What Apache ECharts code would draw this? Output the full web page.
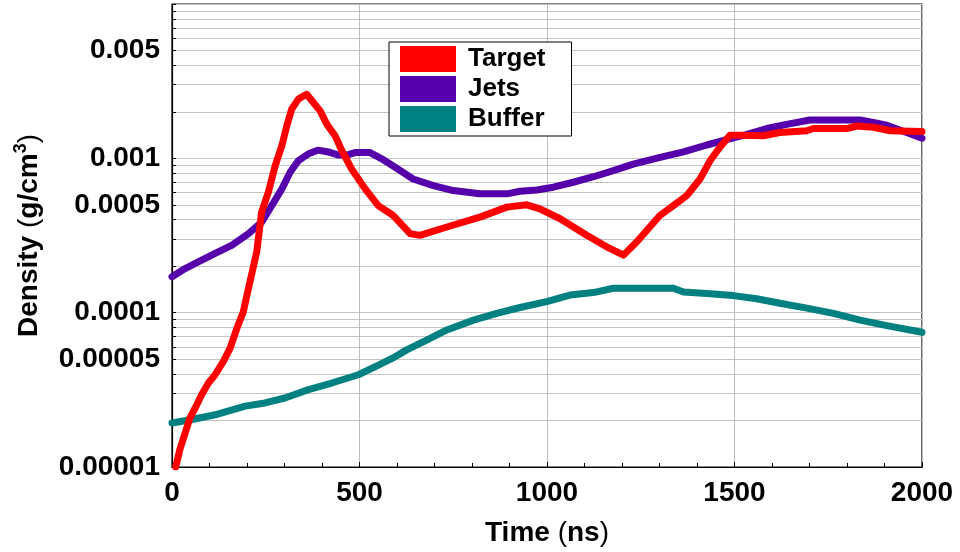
<!DOCTYPE html>
<html>
<head>
<meta charset="utf-8">
<script src="https://cdn.jsdelivr.net/npm/echarts@6/dist/echarts.min.js"></script>
<style>
  html, body { margin: 0; padding: 0; background: #fff; }
  #chart { width: 960px; height: 552px; }
</style>
</head>
<body>
<div id="chart"></div>
<script>
// Density histories (g/cm^3) versus time (ns)
const seriesNames = ['Target', 'Jets', 'Buffer'];

const targetTime = [10, 21, 35, 48, 66, 79, 97, 115, 137, 155, 173, 190, 204, 226, 239, 257, 275, 293, 306, 319, 337, 359, 377, 395, 413, 435, 453, 479, 515, 550, 590, 635, 661, 733, 821, 893, 946, 981, 1035, 1106, 1159, 1204, 1239, 1301, 1337, 1373, 1408, 1435, 1461, 1488, 1515, 1577, 1621, 1693, 1710, 1799, 1826, 1870, 1915, 2000];
const targetDensity = [1.0e-5, 1.30e-5, 1.66e-5, 2.08e-5, 2.53e-5, 2.94e-5, 3.50e-5, 3.96e-5, 4.83e-5, 5.89e-5, 7.92e-5, 1.01e-4, 1.44e-4, 2.48e-4, 4.49e-4, 6.04e-4, 8.95e-4, 1.21e-3, 1.62e-3, 2.08e-3, 2.42e-3, 2.60e-3, 2.30e-3, 2.03e-3, 1.66e-3, 1.40e-3, 1.12e-3, 8.53e-4, 6.34e-4, 4.94e-4, 4.26e-4, 3.25e-4, 3.17e-4, 3.59e-4, 4.16e-4, 4.83e-4, 5.00e-4, 4.71e-4, 4.06e-4, 3.17e-4, 2.67e-4, 2.36e-4, 2.87e-4, 4.26e-4, 4.94e-4, 5.74e-4, 7.35e-4, 9.66e-4, 1.18e-3, 1.41e-3, 1.41e-3, 1.40e-3, 1.47e-3, 1.51e-3, 1.56e-3, 1.56e-3, 1.62e-3, 1.59e-3, 1.51e-3, 1.49e-3];

const jetsTime = [0, 35, 70, 115, 159, 204, 239, 266, 293, 315, 337, 364, 389, 417, 444, 466, 488, 528, 557, 595, 643, 697, 750, 821, 893, 928, 973, 1017, 1070, 1124, 1177, 1230, 1299, 1364, 1426, 1479, 1533, 1586, 1639, 1701, 1781, 1835, 1870, 1906, 1959, 2000];
const jetsDensity = [1.71e-4, 1.93e-4, 2.13e-4, 2.42e-4, 2.73e-4, 3.25e-4, 3.86e-4, 4.94e-4, 6.34e-4, 8.13e-4, 9.66e-4, 1.07e-3, 1.13e-3, 1.10e-3, 1.05e-3, 1.05e-3, 1.09e-3, 1.09e-3, 1.00e-3, 8.75e-4, 7.35e-4, 6.65e-4, 6.18e-4, 5.89e-4, 5.89e-4, 6.12e-4, 6.24e-4, 6.50e-4, 7.00e-4, 7.60e-4, 8.32e-4, 9.18e-4, 1.01e-3, 1.10e-3, 1.22e-3, 1.32e-3, 1.43e-3, 1.56e-3, 1.66e-3, 1.77e-3, 1.77e-3, 1.77e-3, 1.71e-3, 1.64e-3, 1.47e-3, 1.35e-3];

const bufferTime = [0, 53, 115, 195, 248, 301, 364, 426, 497, 552, 588, 626, 679, 733, 804, 866, 928, 999, 1061, 1124, 1177, 1301, 1337, 1364, 1426, 1497, 1559, 1621, 1693, 1764, 1835, 1906, 2000];
const bufferDensity = [1.93e-5, 2.03e-5, 2.18e-5, 2.48e-5, 2.60e-5, 2.80e-5, 3.17e-5, 3.50e-5, 3.96e-5, 4.59e-5, 5.07e-5, 5.74e-5, 6.65e-5, 7.73e-5, 8.95e-5, 9.89e-5, 1.08e-4, 1.18e-4, 1.30e-4, 1.35e-4, 1.44e-4, 1.44e-4, 1.44e-4, 1.36e-4, 1.33e-4, 1.29e-4, 1.23e-4, 1.15e-4, 1.07e-4, 9.89e-5, 8.95e-5, 8.24e-5, 7.46e-5];

// Axis ticks
const xTicks = [0, 500, 1000, 1500, 2000];
const yLabelValues = [0.00001, 0.00005, 0.0001, 0.0005, 0.001, 0.005];
const yTickValues = [
  0.00001, 0.00002, 0.00003, 0.00004, 0.00005, 0.00006, 0.00007, 0.00008, 0.00009,
  0.0001, 0.0002, 0.0003, 0.0004, 0.0005, 0.0006, 0.0007, 0.0008, 0.0009,
  0.001, 0.002, 0.003, 0.004, 0.005, 0.006, 0.007, 0.008, 0.009, 0.01
];

const colors = ['#ff0000', '#5500aa', '#008080'];
const FONT = '"Liberation Sans", Arial, sans-serif';

function pairs(xs, ys) { return xs.map((x, i) => [x, ys[i]]); }

function formatDensity(v) {
  const decimals = Math.ceil(-Math.log10(v) - 1e-9);
  return v.toFixed(decimals);
}

const chart = echarts.init(document.getElementById('chart'), null, { renderer: 'canvas' });

const lineSeries = [
  pairs(targetTime, targetDensity),
  pairs(jetsTime, jetsDensity),
  pairs(bufferTime, bufferDensity)
].map((data, i) => ({
  name: seriesNames[i],
  type: 'line',
  data: data,
  showSymbol: false,
  symbol: 'none',
  smooth: false,
  lineStyle: { color: colors[i], width: 7, cap: 'round', join: 'round' },
  itemStyle: { color: colors[i] },
  z: 10 - i,
  animation: false
}));

chart.setOption({
  animation: false,
  backgroundColor: '#ffffff',
  grid: {
    left: 172, right: 38, top: 4, bottom: 83,
    show: true, borderColor: '#000', borderWidth: 1.2, backgroundColor: 'transparent'
  },
  legend: {
    data: seriesNames,
    orient: 'vertical',
    left: 389, top: 42,
    icon: 'rect',
    itemWidth: 56, itemHeight: 26, itemGap: 4,
    padding: [4, 26, 4, 11],
    backgroundColor: '#fff',
    borderColor: '#000', borderWidth: 1,
    textStyle: { fontFamily: FONT, fontWeight: 'bold', fontSize: 26, color: '#000', padding: [0, 0, 0, 7] }
  },
  xAxis: {
    type: 'value', min: 0, max: 2000, interval: 500,
    name: '{b|Time }{p|(}{b|ns}{p|)}',
    nameLocation: 'middle', nameGap: 52,
    nameTextStyle: {
      rich: {
        b: { fontFamily: FONT, fontWeight: 'bold', fontSize: 28, color: '#000' },
        p: { fontFamily: FONT, fontWeight: 'normal', fontSize: 28, color: '#000' }
      }
    },
    axisLine: { show: true, lineStyle: { color: '#000', width: 1.2 } },
    axisTick: { show: true, inside: true, length: 5, lineStyle: { color: '#000' } },
    minorTick: { show: true, splitNumber: 5, length: 4, lineStyle: { color: '#000' } },
    axisLabel: {
      customValues: xTicks,
      formatter: (v) => String(v),
      fontFamily: FONT, fontWeight: 'bold', fontSize: 28, color: '#000', margin: 12
    },
    splitLine: { show: true, lineStyle: { color: '#bdbdbd', width: 1 } }
  },
  yAxis: {
    type: 'log', logBase: 10, min: 0.00001, max: 0.01,
    name: '{b|Density }{p|(}{b|g/cm}{s|3}{p|)}',
    nameLocation: 'middle', nameGap: 126, nameRotate: 90,
    nameTextStyle: {
      rich: {
        b: { fontFamily: FONT, fontWeight: 'bold', fontSize: 28, color: '#000', lineHeight: 34 },
        p: { fontFamily: FONT, fontWeight: 'normal', fontSize: 28, color: '#000', lineHeight: 34 },
        s: { fontFamily: FONT, fontWeight: 'bold', fontSize: 18, color: '#000', verticalAlign: 'top', lineHeight: 18 }
      }
    },
    axisLine: { show: true, lineStyle: { color: '#000', width: 1.2 } },
    axisTick: { show: true, inside: true, length: 4, customValues: yTickValues, lineStyle: { color: '#000' } },
    axisLabel: {
      customValues: yLabelValues,
      formatter: formatDensity,
      fontFamily: FONT, fontWeight: 'bold', fontSize: 28, color: '#000', margin: 12
    },
    splitLine: { show: true, lineStyle: { color: '#c4c4c4', width: 1 } }
  },
  series: lineSeries
});
</script>
</body>
</html>
